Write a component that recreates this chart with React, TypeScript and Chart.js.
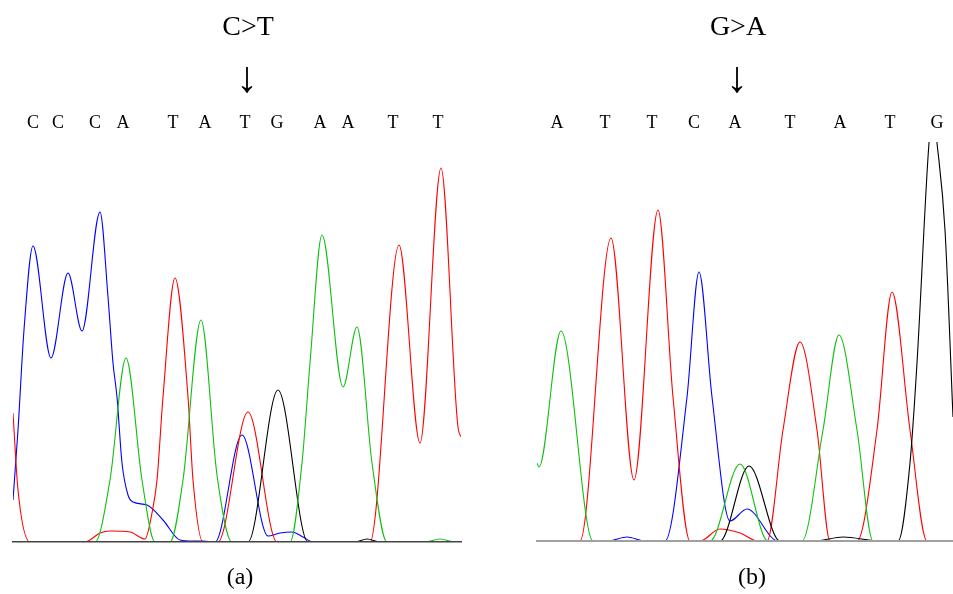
import React, { useEffect, useRef } from "react";
import { Chart, registerables } from "chart.js";

Chart.register(...registerables);

// ---------- Panel (a): C>T ----------
const A_LETTERS = ["C", "C", "C", "A", "T", "A", "T", "G", "A", "A", "T", "T"];
const A_LETTER_POS = [20, 45, 82, 110, 160, 192, 232, 264, 307, 335, 380, 425];
const A_MUTATION_INDEX = 6;
const A_TITLE = "C>T";
const A_CAPTION = "(a)";
const A_X_MAX = 448;
const A_Y_MAX = 400;

const A_BLUE: [number, number][] = [
  [0, 42], [5, 112], [11, 212], [20, 296], [38, 184], [55, 269], [69, 211], [87, 330],
  [95, 245], [100, 179], [104, 145], [109, 79], [115, 47], [120, 40], [134, 37], [150, 22],
  [167, 2], [180, 1], [190, 1], [202, 0], [229, 107], [255, 6], [267, 9], [279, 10],
  [290, 5], [300, 0], [448, 0],
];
const A_RED: [number, number][] = [
  [0, 129], [5, 52], [17, 0], [72, 0], [87, 9], [97, 11], [117, 10], [132, 3], [139, 29],
  [144, 62], [150, 145], [162, 264], [175, 145], [180, 62], [190, 0], [205, 0],
  [235, 130], [264, 0], [357, 0],
  [386, 297], [407, 99], [428, 374], [445, 115], [449, 104],
];
const A_GREEN: [number, number][] = [
  [0, 0], [82, 0], [97, 62], [113, 184], [129, 62], [142, 0], [157, 0], [170, 62], [188, 222],
  [204, 67], [219, 0], [277, 0], [289, 79], [297, 179], [309, 307], [330, 155], [344, 215],
  [359, 79], [374, 0], [412, 0], [427, 3], [442, 0], [448, 0],
];
const A_BLACK: [number, number][] = [
  [0, 0], [235, 0], [265, 152], [295, 0], [342, 0], [354, 3], [367, 0], [448, 0],
];

// ---------- Panel (b): G>A ----------
const B_LETTERS = ["A", "T", "T", "C", "A", "T", "A", "T", "G"];
const B_LETTER_POS = [20, 68, 115, 157, 198, 253, 303, 353, 400];
const B_MUTATION_INDEX = 4;
const B_TITLE = "G>A";
const B_CAPTION = "(b)";
const B_X_MAX = 416;
const B_Y_MAX = 399;

const B_GREEN: [number, number][] = [
  [0, 78], [2, 74], [24, 210], [56, 0], [173, 0],
  [203, 77], [231, 0], [265, 0], [286, 111], [302, 206], [320, 111], [336, 0], [416, 0],
];
const B_RED: [number, number][] = [
  [0, 0], [43, 0], [74, 303], [97, 61], [121, 331], [136, 144], [153, 0], [163, 0],
  [183, 12], [203, 8], [221, 0], [230, 0], [246, 111], [263, 199], [280, 111], [293, 0],
  [320, 0], [340, 111], [355, 249], [373, 111], [390, 0], [416, 0],
];
const B_BLUE: [number, number][] = [
  [0, 0], [71, 0], [90, 4], [108, 0], [128, 0], [150, 144], [162, 269], [175, 144],
  [193, 20], [210, 32], [241, 0], [416, 0],
];
const B_BLACK: [number, number][] = [
  [0, 0], [183, 0], [212, 75], [243, 0], [278, 0], [306, 4], [343, 0], [361, 0], [373, 78],
  [380, 178], [392, 398], [396, 430], [400, 398], [408, 311], [416, 124],
];

const COLORS = { blue: "#0000ff", red: "#ff0000", green: "#10c010", black: "#000000" };
const SERIF = '"Liberation Serif", "Times New Roman", Times, serif';

type PanelCfg = {
  letters: string[];
  letterPos: number[];
  mutIndex: number;
  title: string;
  caption: string;
  captionPx: number;
  xMax: number;
  yMax: number;
  traces: { data: [number, number][]; color: string }[];
  padding: { left: number; right: number; top: number; bottom: number };
  baseColor: string;
  baseWidth: number;
};

function makeTextPlugin(cfg: PanelCfg) {
  return {
    id: "seqText",
    afterDraw(chart: any) {
      const ctx = chart.ctx as CanvasRenderingContext2D;
      const xs = chart.scales.x;
      ctx.save();
      ctx.fillStyle = "#000";
      ctx.textAlign = "center";
      ctx.textBaseline = "middle";
      const mx = xs.getPixelForValue(cfg.letterPos[cfg.mutIndex]);
      ctx.font = `28px ${SERIF}`;
      ctx.fillText(cfg.title, mx + 3, 28);
      ctx.font = `44px ${SERIF}`;
      ctx.fillText("\u2193", mx + 2, 80);
      ctx.font = `18px ${SERIF}`;
      cfg.letters.forEach((l, i) => {
        ctx.fillText(l, xs.getPixelForValue(cfg.letterPos[i]), 123);
      });
      ctx.font = `24px ${SERIF}`;
      ctx.fillText(cfg.caption, cfg.captionPx, 578);
      ctx.restore();
    },
  };
}

function Panel({ cfg, left }: { cfg: PanelCfg; left: number }) {
  const ref = useRef<HTMLCanvasElement | null>(null);
  useEffect(() => {
    if (!ref.current) return;
    const chart = new Chart(ref.current, {
      type: "line",
      data: {
        datasets: cfg.traces.map((t) => ({
          data: t.data.map(([x, y]) => ({ x, y })),
          borderColor: t.color,
          borderWidth: 1.1,
          pointRadius: 0,
          fill: false,
          cubicInterpolationMode: "monotone" as const,
        })),
      },
      options: {
        responsive: false,
        animation: false,
        events: [],
        layout: { padding: cfg.padding },
        plugins: { legend: { display: false }, tooltip: { enabled: false }, title: { display: false } },
        scales: {
          x: {
            type: "linear",
            min: 0,
            max: cfg.xMax,
            ticks: { display: false },
            grid: { display: false, drawTicks: false },
            border: { display: true, color: cfg.baseColor, width: cfg.baseWidth, z: 1 },
          },
          y: { type: "linear", min: 0, max: cfg.yMax, display: false },
        },
      },
      plugins: [makeTextPlugin(cfg)],
    });
    return () => chart.destroy();
  }, [cfg]);
  return (
    <canvas
      ref={ref}
      width={476}
      height={594}
      style={{ position: "absolute", left, top: 0, width: 476, height: 594 }}
    />
  );
}

const PANEL_A: PanelCfg = {
  letters: A_LETTERS,
  letterPos: A_LETTER_POS,
  mutIndex: A_MUTATION_INDEX,
  title: A_TITLE,
  caption: A_CAPTION,
  captionPx: 240,
  xMax: A_X_MAX,
  yMax: A_Y_MAX,
  traces: [
    { data: A_GREEN, color: COLORS.green },
    { data: A_BLACK, color: COLORS.black },
    { data: A_RED, color: COLORS.red },
    { data: A_BLUE, color: COLORS.blue },
  ],
  padding: { left: 13, right: 15, top: 142, bottom: 52 },
  baseColor: "#444444",
  baseWidth: 1.5,
};

const PANEL_B: PanelCfg = {
  letters: B_LETTERS,
  letterPos: B_LETTER_POS,
  mutIndex: B_MUTATION_INDEX,
  title: B_TITLE,
  caption: B_CAPTION,
  captionPx: 752 - 477,
  xMax: B_X_MAX,
  yMax: B_Y_MAX,
  traces: [
    { data: B_GREEN, color: COLORS.green },
    { data: B_BLACK, color: COLORS.black },
    { data: B_RED, color: COLORS.red },
    { data: B_BLUE, color: COLORS.blue },
  ],
  padding: { left: 60, right: 0, top: 142, bottom: 53 },
  baseColor: "#a0a0a0",
  baseWidth: 2,
};

export default function App() {
  return (
    <div style={{ position: "absolute", left: 0, top: 0, width: 953, height: 594, background: "#fff" }}>
      <Panel cfg={PANEL_A} left={0} />
      <Panel cfg={PANEL_B} left={477} />
    </div>
  );
}
